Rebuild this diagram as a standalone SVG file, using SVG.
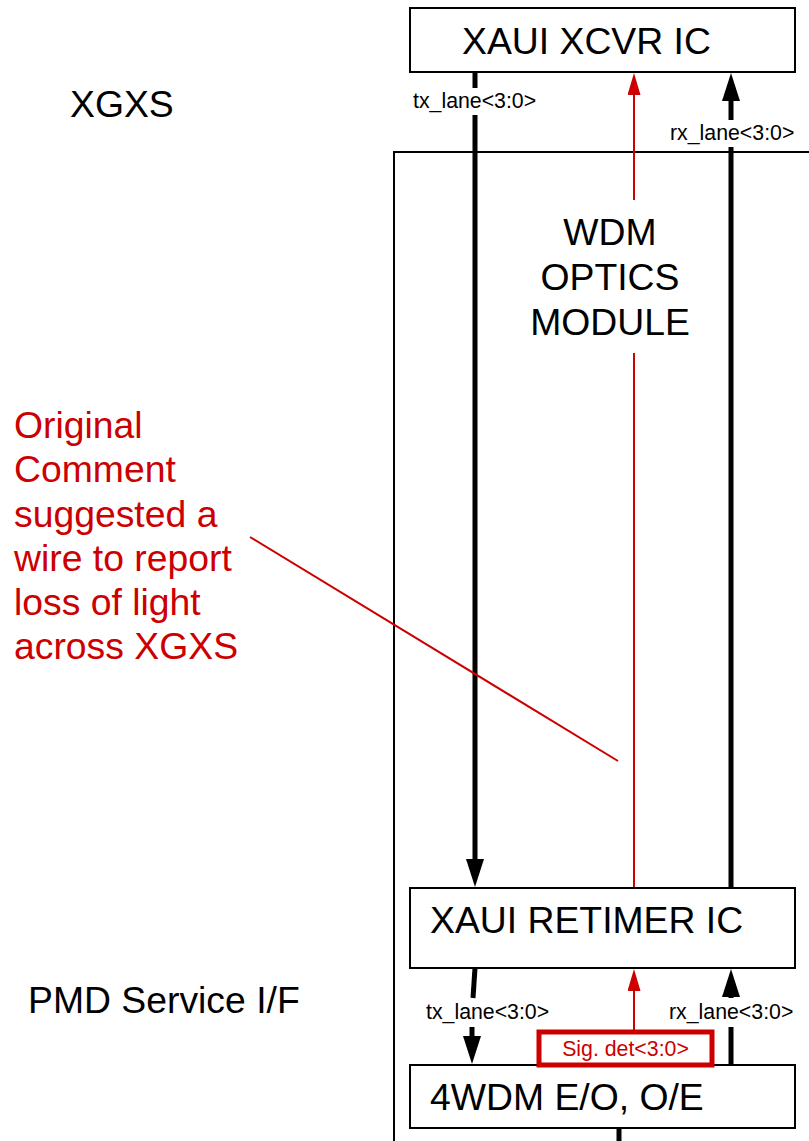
<svg xmlns="http://www.w3.org/2000/svg" width="809" height="1141" viewBox="0 0 809 1141">
<style>
.box{fill:#fff;stroke:#000;stroke-width:2}
.big{font-family:"Liberation Sans",Arial,sans-serif;font-size:37.33px;fill:#000}
.lbl{font-family:"Liberation Sans",Arial,sans-serif;font-size:21.3px;fill:#000}
.red{fill:#cc0000}
.thick{stroke:#000;stroke-width:5;fill:none}
.rl{stroke:#cc0000;stroke-width:2;fill:none}
</style>
<defs>
<marker id="ab" markerUnits="userSpaceOnUse" markerWidth="28" markerHeight="18" refX="18" refY="9" viewBox="0 0 28 18" orient="auto">
<path d="M0,0 L28,9 L0,18 Z" fill="#000"/>
</marker>
<marker id="ar" markerUnits="userSpaceOnUse" markerWidth="22" markerHeight="13" refX="14" refY="6.5" viewBox="0 0 22 13" orient="auto">
<path d="M0,0 L22,6.5 L0,13 Z" fill="#cc0000"/>
</marker>
</defs>
<rect width="809" height="1141" fill="#fff"/>
<g id="outer">
<path d="M394,1141 V152 H812" fill="none" stroke="#000" stroke-width="2"/>
</g>
<g id="connectors">
<line class="thick" x1="475" y1="72" x2="475" y2="88"/>
<line class="thick" x1="475" y1="115" x2="475" y2="877" marker-end="url(#ab)"/>
<line class="thick" x1="731" y1="888" x2="731" y2="147"/>
<line class="thick" x1="731" y1="120" x2="731" y2="83" marker-end="url(#ab)"/>
<line class="rl" x1="634" y1="200" x2="634" y2="81" marker-end="url(#ar)"/>
<line class="rl" x1="634" y1="888" x2="634" y2="353"/>
<line class="rl" x1="250" y1="537" x2="618" y2="761"/>
<line class="thick" x1="475" y1="968" x2="473" y2="998"/>
<line class="thick" x1="472" y1="1027" x2="472" y2="1054" marker-end="url(#ab)"/>
<line class="thick" x1="731" y1="1065" x2="731" y2="1027"/>
<line class="thick" x1="731" y1="998" x2="731" y2="979" marker-end="url(#ab)"/>
<line class="rl" x1="634" y1="1032" x2="634" y2="977" marker-end="url(#ar)"/>
<line class="thick" x1="619" y1="1128" x2="619" y2="1141" stroke-width="4"/>
<text class="lbl" x="413" y="108">tx_lane&lt;3:0&gt;</text>
<text class="lbl" x="670" y="140">rx_lane&lt;3:0&gt;</text>
<text class="lbl" x="426" y="1019">tx_lane&lt;3:0&gt;</text>
<text class="lbl" x="669" y="1019">rx_lane&lt;3:0&gt;</text>
</g>
<g id="xcvr">
<rect class="box" x="410" y="8" width="385" height="64"/>
<text class="big" x="462" y="54">XAUI XCVR IC</text>
</g>
<g id="wdm">
<text class="big" x="610" y="245" text-anchor="middle">WDM</text>
<text class="big" x="610" y="290" text-anchor="middle">OPTICS</text>
<text class="big" x="610" y="335" text-anchor="middle">MODULE</text>
</g>
<g id="retimer">
<rect class="box" x="410" y="888" width="385" height="80"/>
<text class="big" x="430" y="933">XAUI RETIMER IC</text>
</g>
<g id="eo">
<rect class="box" x="410" y="1065" width="385" height="63"/>
<text class="big" x="430" y="1110">4WDM E/O, O/E</text>
</g>
<g id="sigdet">
<rect x="539" y="1032" width="173" height="33" fill="#fff" stroke="#cc0000" stroke-width="5"/>
<text class="lbl red" x="625.5" y="1056" text-anchor="middle">Sig. det&lt;3:0&gt;</text>
</g>
<g id="xgxs">
<text class="big" x="70" y="117">XGXS</text>
</g>
<g id="pmd">
<text class="big" x="28" y="1013">PMD Service I/F</text>
</g>
<g id="comment">
<text class="big red" x="14" y="438">Original</text>
<text class="big red" x="14" y="482">Comment</text>
<text class="big red" x="14" y="526.5">suggested a</text>
<text class="big red" x="14" y="570.5">wire to report</text>
<text class="big red" x="14" y="615">loss of light</text>
<text class="big red" x="14" y="659">across XGXS</text>
</g>
</svg>
